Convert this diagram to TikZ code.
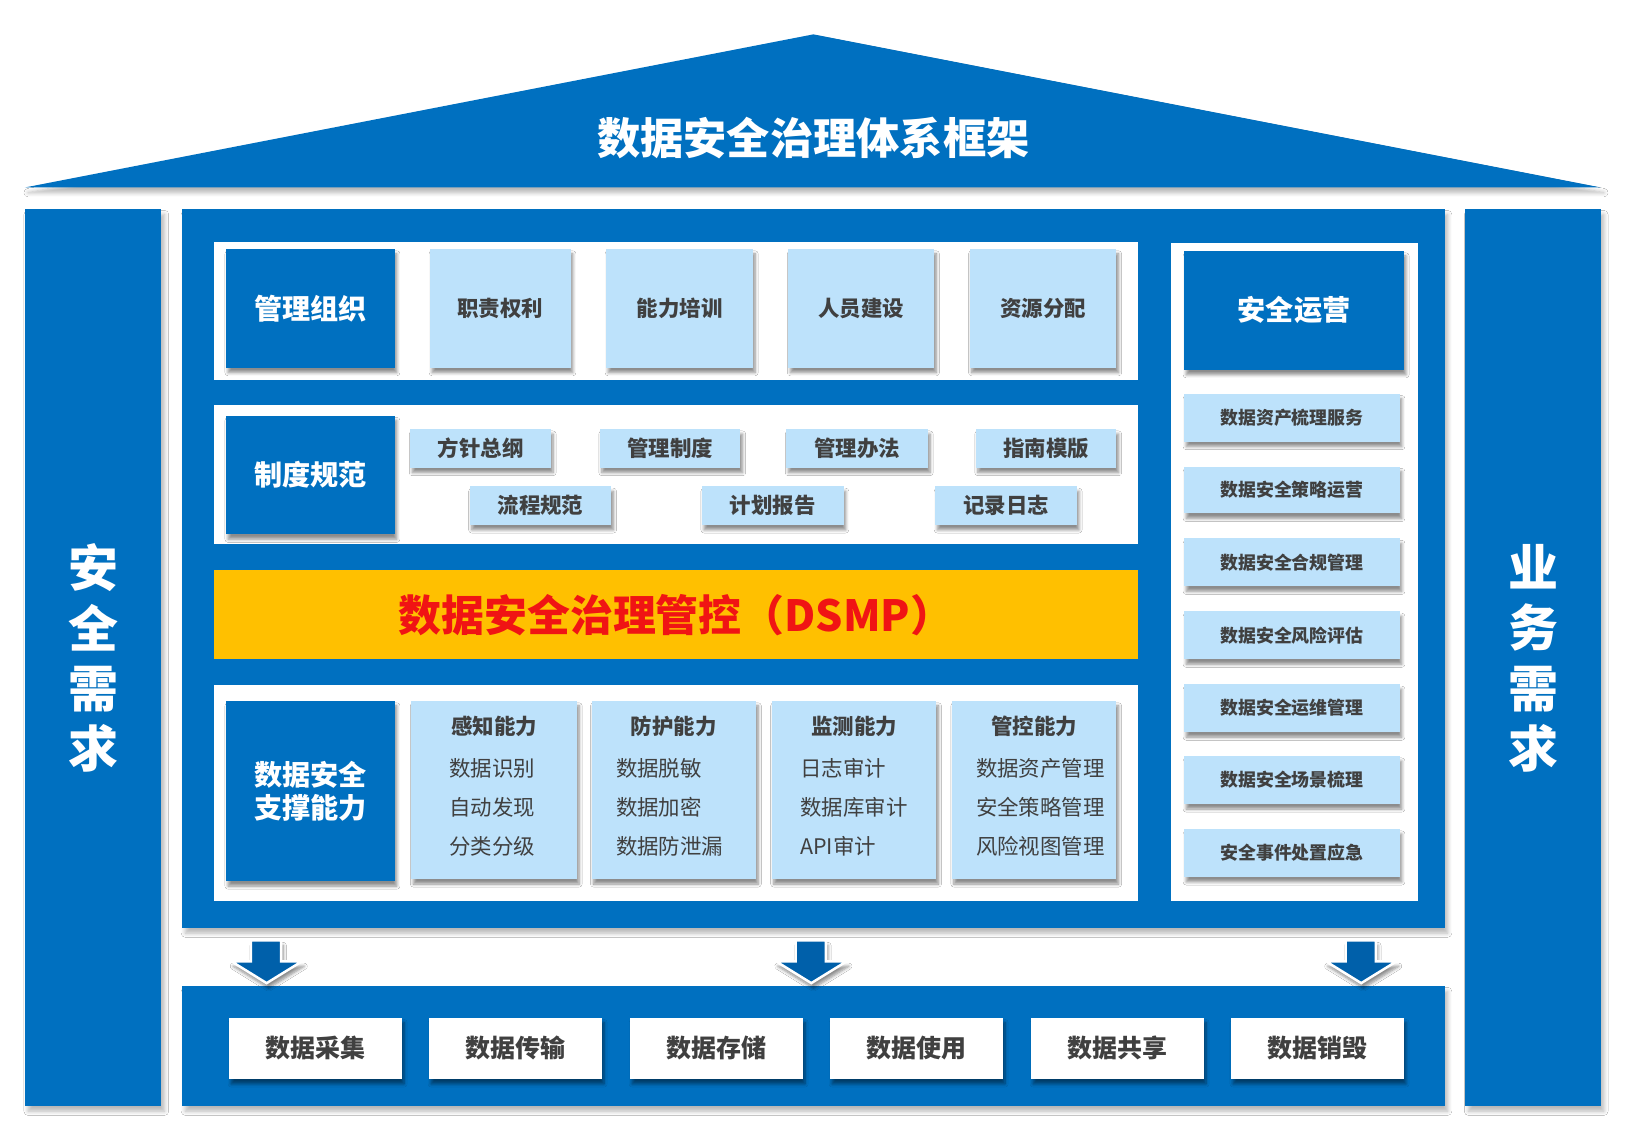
\documentclass[tikz,border=0pt]{standalone}
\usepackage{fontspec}
\setmainfont{Noto Sans CJK SC}
\usetikzlibrary{shadows,shadows.blur}
\definecolor{mblue}{HTML}{0070C0}
\definecolor{lblue}{HTML}{BDE2FB}
\definecolor{dgray}{HTML}{404040}
\definecolor{ablue}{HTML}{0060AA}
\definecolor{gold}{HTML}{FFC000}
\definecolor{dred}{HTML}{F01414}
\newcommand\mybox[7]{\node[#1, anchor=north west, inner sep=0pt, outer sep=0pt,
  minimum width={(#5-#3)*0.5pt}, minimum height={(#6-#4)*0.5pt}] (#2) at (#3,#4) {#7};}
\begin{document}
\begin{tikzpicture}[x=0.5pt,y=-0.5pt,
  shd/.style={blur shadow={shadow xshift=1pt, shadow yshift=-2.4pt, shadow blur radius=1.5pt, shadow blur steps=6, shadow opacity=45}},
  bigshd/.style={blur shadow={shadow xshift=1.5pt, shadow yshift=-2.5pt, shadow blur radius=2pt, shadow blur steps=6, shadow opacity=28}},
  pillar/.style={fill=mblue, bigshd},
  panel/.style={fill=mblue, bigshd},
  wpanel/.style={fill=white},
  headbox/.style={fill=mblue, text=white, align=center, shd,
     font=\fontsize{13.5}{16}\selectfont\bfseries},
  lbox/.style={fill=lblue, text=dgray, shd, font=\fontsize{10.3}{12}\selectfont\bfseries},
  rchip/.style={fill=lblue, text=dgray, shd, font=\fontsize{8.6}{10}\selectfont\bfseries},
  capbox/.style={fill=lblue, shd},
  caphead/.style={text=dgray, font=\fontsize{10.3}{12}\selectfont\bfseries},
  capitem/.style={text=dgray, align=left, font=\fontsize{10.3}{18.75}\selectfont},
  stage/.style={fill=white, text=dgray, shd, font=\fontsize{12}{14}\selectfont\bfseries},
  vtext/.style={text=white, align=center, font=\fontsize{24}{29}\selectfont\bfseries},
  darrow/.style={fill=ablue, draw=white, line width=1.2pt, line join=miter, shd}
]
\useasboundingbox (0,0) rectangle (1568,1080);
\fill[white] (0,0) rectangle (1568,1080);

% roof
\coordinate (roofL) at (24,180);
\coordinate (roofT) at (781,33);
\coordinate (roofR) at (1537,180);
\path[fill=mblue, bigshd] (roofL) -- (roofT) -- (roofR) -- cycle;
\node[text=white, font=\fontsize{20.75}{24}\selectfont\bfseries] (title) at (781,133) {数据安全治理体系框架};

% pillars
\mybox{pillar}{lpillar}{24}{201}{155}{1062}{}
\mybox{pillar}{rpillar}{1407}{201}{1537}{1062}{}
\node[vtext] (ltext) at (89.5,632) {安\\全\\需\\求};
\node[vtext] (rtext) at (1472,632) {业\\务\\需\\求};

% main panels
\mybox{panel}{mainpanel}{175}{201}{1387}{891}{}
\mybox{panel}{botpanel}{175}{947}{1387}{1062}{}

% white panels
\mybox{wpanel}{wp1}{205}{232}{1093}{365}{}
\mybox{wpanel}{wp2}{205}{389}{1093}{522}{}
\mybox{wpanel}{wp3}{205}{658}{1093}{865}{}
\mybox{wpanel}{wpr}{1124}{233}{1362}{865}{}

% row 1
\mybox{headbox}{org}{217}{239}{379}{353}{管理组织}
\mybox{lbox}{r1a}{413}{239}{548}{353}{职责权利}
\mybox{lbox}{r1b}{582}{239}{723}{353}{能力培训}
\mybox{lbox}{r1c}{757}{239}{897}{353}{人员建设}
\mybox{lbox}{r1d}{931}{239}{1072}{353}{资源分配}

% row 2
\mybox{headbox}{rule}{217}{399}{379}{513}{制度规范}
\mybox{lbox}{r2a}{394}{412}{529}{449}{方针总纲}
\mybox{lbox}{r2b}{576}{412}{711}{449}{管理制度}
\mybox{lbox}{r2c}{755}{412}{891}{449}{管理办法}
\mybox{lbox}{r2d}{937}{412}{1072}{449}{指南模版}
\mybox{lbox}{r2e}{451}{467}{587}{504}{流程规范}
\mybox{lbox}{r2f}{674}{467}{810}{504}{计划报告}
\mybox{lbox}{r2g}{898}{467}{1034}{504}{记录日志}

% DSMP bar
\mybox{fill=gold}{bar}{205}{547}{1093}{633}{}
\node[text=dred, font=\fontsize{20.6}{24}\selectfont\bfseries] (dsmp) at (649,591) {数据安全治理管控（DSMP）};

% row 3
\mybox{headbox}{sup}{217}{673}{379}{846}{数据安全\\支撑能力}
\mybox{capbox}{c1}{395}{673}{554}{844}{}
\mybox{capbox}{c2}{568}{673}{726}{844}{}
\mybox{capbox}{c3}{741}{673}{899}{844}{}
\mybox{capbox}{c4}{914}{673}{1072}{844}{}
\node[caphead] (c1h) at (474.5,697) {感知能力};
\node[caphead] (c2h) at (647,697) {防护能力};
\node[caphead] (c3h) at (820,697) {监测能力};
\node[caphead] (c4h) at (993,697) {管控能力};
\node[capitem] (c1i) at (472.5,775) {数据识别\\自动发现\\分类分级};
\node[capitem] (c2i) at (643,775) {数据脱敏\\数据加密\\数据防泄漏};
\node[capitem] (c3i) at (820,775) {日志审计\\数据库审计\\API审计};
\node[capitem] (c4i) at (999,775) {数据资产管理\\安全策略管理\\风险视图管理};

% right column
\mybox{headbox}{ops}{1137}{241}{1348}{355}{安全运营}
\mybox{rchip}{o1}{1137}{378}{1344}{424}{数据资产梳理服务}
\mybox{rchip}{o2}{1137}{448}{1344}{493}{数据安全策略运营}
\mybox{rchip}{o3}{1137}{517}{1344}{563}{数据安全合规管理}
\mybox{rchip}{o4}{1137}{587}{1344}{633}{数据安全风险评估}
\mybox{rchip}{o5}{1137}{657}{1344}{703}{数据安全运维管理}
\mybox{rchip}{o6}{1137}{726}{1344}{772}{数据安全场景梳理}
\mybox{rchip}{o7}{1137}{796}{1344}{842}{安全事件处置应急}

% arrows
\foreach \cx in {256,779,1307}{
  \path[darrow, shift={(\cx,0)}] (-15,903) -- (14,903) -- (14,923) -- (34,923)
     -- (0,944) -- (-34,923) -- (-15,923) -- cycle;
}

% stages
\mybox{stage}{s1}{220}{977}{386}{1036}{数据采集}
\mybox{stage}{s2}{412}{977}{578}{1036}{数据传输}
\mybox{stage}{s3}{605}{977}{771}{1036}{数据存储}
\mybox{stage}{s4}{797}{977}{963}{1036}{数据使用}
\mybox{stage}{s5}{990}{977}{1156}{1036}{数据共享}
\mybox{stage}{s6}{1182}{977}{1348}{1036}{数据销毁}
\end{tikzpicture}
\end{document}
